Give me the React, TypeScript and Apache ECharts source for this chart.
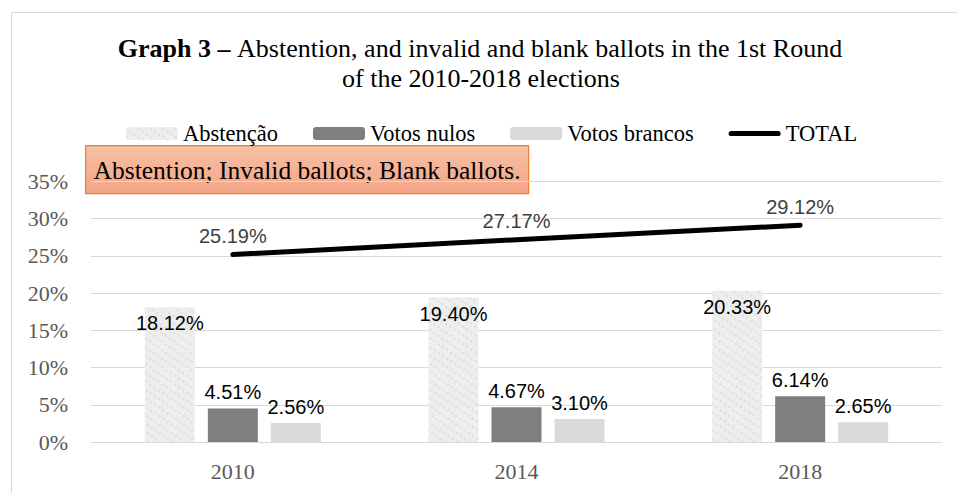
import React, { useEffect, useRef } from "react";
import * as echarts from "echarts";

const years = ["2010", "2014", "2018"];
const abstencao = [18.12, 19.4, 20.33];
const votosNulos = [4.51, 4.67, 6.14];
const votosBrancos = [2.56, 3.1, 2.65];
const total = [25.19, 27.17, 29.12];
const seriesNames = ["Abstenção", "Votos nulos", "Votos brancos", "TOTAL"];
const titleBold = "Graph 3 –";
const titleLine1 = "Abstention, and invalid and blank ballots in the 1st Round";
const titleLine2 = "of the 2010-2018 elections";
const boxText = "Abstention; Invalid ballots; Blank ballots.";

const serif = "'Liberation Serif', 'Times New Roman', serif";
const sans = "'Liberation Sans', Arial, sans-serif";

export default function App() {
  const ref = useRef<HTMLDivElement>(null);
  useEffect(() => {
    document.body.style.margin = "0";
    const chart = echarts.init(ref.current!, undefined, { renderer: "svg" });
    const pct = (p: any) => Number(p.value).toFixed(2) + "%";
    const barLabel = (position: string) => ({
      show: true,
      position,
      distance: 6,
      formatter: pct,
      fontFamily: sans,
      fontSize: 20,
      color: "#000",
    });
    chart.setOption({
      animation: false,
      backgroundColor: "#ffffff",
      legend: {
        left: 126,
        top: 122,
        padding: 0,
        itemWidth: 52,
        itemHeight: 13,
        itemGap: 35,
        data: [
          { name: seriesNames[0] },
          { name: seriesNames[1] },
          { name: seriesNames[2] },
          {
            name: seriesNames[3],
            icon: "path://M3,0 L57,0 A3,3 0 0 1 57,6 L3,6 A3,3 0 0 1 3,0 Z",
            itemStyle: { color: "#000" },
          },
        ],
        textStyle: { fontFamily: serif, fontSize: 22.5, color: "#000" },
      },
      grid: { left: 91, right: 15, top: 181.5, bottom: 51 },
      xAxis: {
        type: "category",
        data: years,
        axisLine: { lineStyle: { color: "#d9d9d9", width: 1 } },
        axisTick: { show: false },
        axisLabel: { fontFamily: serif, fontSize: 22, color: "#595959", margin: 18 },
      },
      yAxis: {
        type: "value",
        min: 0,
        max: 35,
        interval: 5,
        axisLine: { show: false },
        axisTick: { show: false },
        splitLine: { lineStyle: { color: "#d9d9d9", width: 1 } },
        axisLabel: {
          formatter: "{value}%",
          fontFamily: serif,
          fontSize: 22,
          color: "#595959",
          margin: 23,
        },
      },
      series: [
        {
          name: seriesNames[0],
          type: "bar",
          data: abstencao,
          barWidth: 50,
          barGap: "26%",
          itemStyle: {
            color: "#eeeeee",
            decal: {
              symbol: "circle",
              symbolSize: 0.7,
              color: "rgba(200,200,200,0.6)",
              dashArrayX: [3, 2],
              dashArrayY: [3, 4],
              rotation: 0.6,
            },
          },
          label: barLabel("insideTop"),
        },
        {
          name: seriesNames[1],
          type: "bar",
          data: votosNulos,
          barWidth: 50,
          barGap: "26%",
          itemStyle: { color: "#7f7f7f" },
          label: barLabel("top"),
        },
        {
          name: seriesNames[2],
          type: "bar",
          data: votosBrancos,
          barWidth: 50,
          barGap: "26%",
          itemStyle: { color: "#d9d9d9" },
          label: barLabel("top"),
        },
        {
          name: seriesNames[3],
          type: "line",
          data: total,
          symbol: "circle",
          symbolSize: 1,
          showSymbol: true,
          lineStyle: { color: "#000", width: 5, cap: "round" },
          itemStyle: { color: "#000" },
          label: {
            show: true,
            position: "top",
            distance: 8,
            formatter: pct,
            fontFamily: sans,
            fontSize: 20,
            color: "#404040",
          },
          z: 5,
        },
      ],
      graphic: [
        {
          type: "rect",
          left: 9,
          top: 10,
          shape: { x: 0, y: 0, width: 1000, height: 1000 },
          style: { fill: "none", stroke: "#d9d9d9", lineWidth: 1 },
          silent: true,
          z: -10,
        },
        {
          type: "text",
          x: 480,
          y: 48,
          style: {
            text: "{b|" + titleBold + "} {n|" + titleLine1 + "}",
            align: "center",
            verticalAlign: "middle",
            rich: {
              b: { fontFamily: serif, fontSize: 26, fontWeight: "bold", fill: "#000" },
              n: { fontFamily: serif, fontSize: 26, fontWeight: "normal", fill: "#000" },
            },
            fontFamily: serif,
            fontSize: 26,
            fill: "#000",
          },
        },
        {
          type: "text",
          x: 481,
          y: 78,
          style: {
            text: titleLine2,
            align: "center",
            verticalAlign: "middle",
            fontFamily: serif,
            fontSize: 26,
            fill: "#000",
          },
        },
        {
          type: "group",
          left: 85,
          top: 145,
          z: 100,
          children: [
            {
              type: "rect",
              shape: { x: 0, y: 0, width: 443, height: 48 },
              style: {
                fill: new echarts.graphic.LinearGradient(0, 0, 0, 1, [
                  { offset: 0, color: "#f7c0a6" },
                  { offset: 1, color: "#f3a586" },
                ]),
                stroke: "#ed7d31",
                lineWidth: 1.2,
              },
            },
            {
              type: "text",
              x: 221.5,
              y: 25,
              style: {
                text: boxText,
                fontFamily: serif,
                fontSize: 25.5,
                fill: "#000",
                align: "center",
                verticalAlign: "middle",
              },
            },
          ],
        },
      ],
    });
    return () => chart.dispose();
  }, []);
  return <div ref={ref} style={{ width: 957, height: 493 }} />;
}
